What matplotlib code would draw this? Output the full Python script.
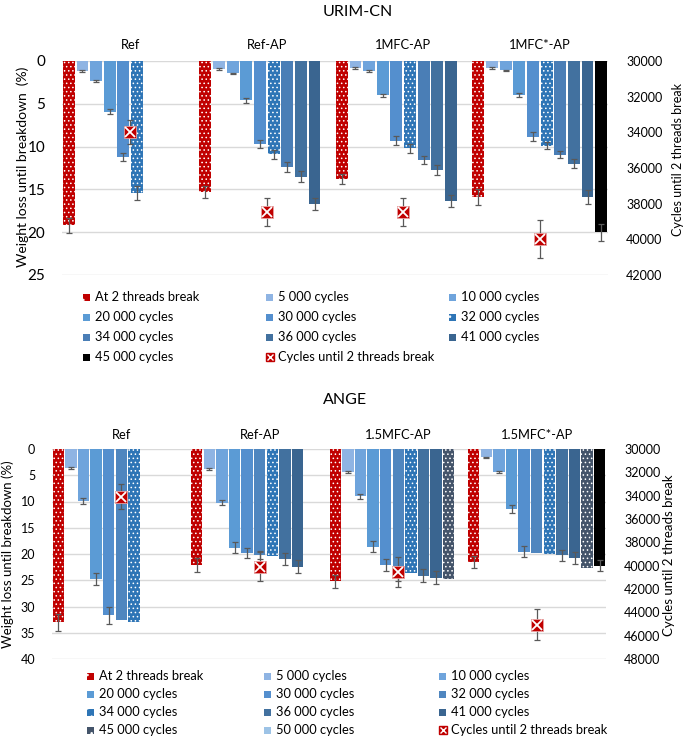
import numpy as np
import matplotlib
matplotlib.use('Agg')
import matplotlib.pyplot as plt
from matplotlib.patches import Rectangle
from matplotlib.lines import Line2D

plt.rcParams['font.family'] = ['Lato', 'DejaVu Sans']
plt.rcParams['hatch.linewidth'] = 0.6

nan = np.nan

# ------------------------- URIM-CN (top) -------------------------
top_title = 'URIM-CN'
top_groups = ['Ref', 'Ref-AP', '1MFC-AP', '1MFC*-AP']
top_series = ['At 2 threads break', '5 000 cycles', '10 000 cycles', '20 000 cycles',
              '30 000 cycles', '32 000 cycles', '34 000 cycles', '36 000 cycles',
              '41 000 cycles', '45 000 cycles']
top_ref = [19.2, 1.2, 2.3, 5.9, 11.2, 15.4, nan, nan, nan, nan]
top_ref_err = [0.9, 0.1, 0.1, 0.3, 0.5, 0.8, nan, nan, nan, nan]
top_refap = [15.3, 0.95, 1.45, 4.6, 9.7, 10.9, 12.35, 13.5, 16.7, nan]
top_refap_err = [0.7, 0.1, 0.1, 0.3, 0.5, 0.5, 0.6, 0.6, 0.7, nan]
top_1mfc = [13.8, 0.8, 1.2, 4.0, 9.3, 10.2, 11.55, 12.75, 16.4, nan]
top_1mfc_err = [0.6, 0.1, 0.1, 0.2, 0.5, 0.5, 0.5, 0.6, 0.7, nan]
top_1mfcs = [15.9, 0.85, 1.1, 3.95, 8.85, 9.9, 10.95, 12.0, 15.9, 20.0]
top_1mfcs_err = [0.9, 0.1, 0.1, 0.2, 0.5, 0.4, 0.4, 0.5, 0.8, 1.0]
top_cycles = [33980, 38470, 38490, 39980]
top_cycles_err = [680, 780, 790, 1050]
top_colors = ['#C00000', '#8FB4E3', '#6FA4DC', '#5B9BD5', '#548FCE', '#2E75B6',
              '#4A7EB6', '#42719F', '#3A6590', '#000000']
top_dotted = [True, False, False, False, False, True, False, False, False, False]

# ------------------------- ANGE (bottom) -------------------------
bot_title = 'ANGE'
bot_groups = ['Ref', 'Ref-AP', '1.5MFC-AP', '1.5MFC*-AP']
bot_series = ['At 2 threads break', '5 000 cycles', '10 000 cycles', '20 000 cycles',
              '30 000 cycles', '32 000 cycles', '34 000 cycles', '36 000 cycles',
              '41 000 cycles', '45 000 cycles', '50 000 cycles']
bot_ref = [33.0, 3.6, 9.9, 24.8, 31.7, 32.6, 33.0, nan, nan, nan, nan]
bot_ref_err = [1.6, 0.15, 0.5, 1.1, 1.6, nan, nan, nan, nan, nan, nan]
bot_refap = [22.1, 3.8, 10.2, 18.8, 19.8, 20.2, 20.4, 21.0, 22.4, nan, nan]
bot_refap_err = [1.3, 0.15, 0.5, 1.0, 1.0, 0.8, nan, 1.1, 1.2, nan, nan]
bot_15mfc = [25.2, 4.3, 9.0, 18.6, 22.1, 24.3, 23.7, 24.1, 24.5, 24.8, nan]
bot_15mfc_err = [1.25, 0.2, 0.5, 1.0, 1.1, 0.9, nan, 1.2, 1.3, nan, nan]
bot_15mfcs = [21.5, 1.6, 4.3, 11.4, 19.55, 19.9, 20.0, 20.25, 20.8, 22.7, 22.2]
bot_15mfcs_err = [1.1, 0.1, 0.2, 0.7, 1.0, nan, nan, 1.0, 1.1, nan, 1.1]
bot_cycles = [34090, 40080, 40560, 45060]
bot_cycles_err = [1070, 1270, 1260, 1340]
bot_colors = ['#C00000', '#8FB4E3', '#6FA4DC', '#5B9BD5', '#548FCE', '#4F86BF',
              '#2E75B6', '#42719F', '#3A6590', '#44546A', '#000000']
bot_legend_colors = ['#C00000', '#8FB4E3', '#6FA4DC', '#5B9BD5', '#548FCE', '#4F86BF',
                     '#2E75B6', '#42719F', '#3A6590', '#44546A', '#9DC3E6']
bot_dotted = [True, False, False, False, False, False, True, False, False, True, False]

cross_label = 'Cycles until 2 threads break'
ylabel_top = 'Weight loss until breakdown  (%)'
ylabel_bot = 'Weight loss until breakdown (%)'
y2label = 'Cycles until 2 threads break'

W, H = 685, 738
fig = plt.figure(figsize=(W / 100, H / 100), dpi=100)

ERR_C = '#595959'


def fx(px):
    return px / W


def fy(py):
    return 1 - py / H


def draw_chart(box, groups, series, vals, errs, colors, dotted, cycles, cycles_err,
               ylim, yticks, y2lim, y2ticks, bar_w, tick_fs, y2_fs, cat_fs, cat_pad):
    l, t, r, b = box
    ax = fig.add_axes([fx(l), fy(b), fx(r) - fx(l), fy(t) - fy(b)])
    n = len(series)
    ng = len(groups)
    for si in range(n):
        xs, hs, es = [], [], []
        for gi in range(ng):
            v = vals[gi][si]
            if np.isnan(v):
                continue
            xs.append(gi * n + si + 0.5)
            hs.append(v)
            es.append(errs[gi][si])
        if not xs:
            continue
        if dotted[si]:
            ax.bar(xs, hs, width=bar_w, color=colors[si], edgecolor='white',
                   linewidth=0, hatch='....', zorder=2)
        else:
            ax.bar(xs, hs, width=bar_w, color=colors[si], linewidth=0, zorder=2)
        es = np.array(es, dtype=float)
        m = ~np.isnan(es)
        if m.any():
            ax.errorbar(np.array(xs)[m], np.array(hs)[m], yerr=es[m], fmt='none',
                        ecolor=ERR_C, elinewidth=0.9, capsize=2.2, capthick=0.9, zorder=3)
    ax.set_xlim(0, ng * n)
    ax.set_ylim(ylim[1], ylim[0])
    ax.set_yticks(yticks)
    ax.set_yticklabels([str(v) for v in yticks], fontsize=tick_fs)
    ax.yaxis.grid(True, color='#D9D9D9', linewidth=1.0)
    ax.set_axisbelow(True)
    centers = [gi * n + n / 2 for gi in range(ng)]
    ax.set_xticks(centers)
    ax.set_xticklabels(groups, fontsize=cat_fs)
    ax.xaxis.tick_top()
    ax.tick_params(axis='x', length=0, pad=cat_pad)
    ax.tick_params(axis='y', length=0, pad=12)
    for s in ax.spines.values():
        s.set_visible(False)

    ax2 = ax.twinx()
    ax2.set_ylim(y2lim[1], y2lim[0])
    ax2.set_yticks(y2ticks)
    ax2.set_yticklabels([str(v) for v in y2ticks], fontsize=y2_fs)
    ax2.tick_params(axis='y', length=0, pad=13)
    for s in ax2.spines.values():
        s.set_visible(False)
    ax2.errorbar(centers, cycles, yerr=cycles_err, fmt='none', ecolor=ERR_C,
                 elinewidth=0.9, capsize=2.2, capthick=0.9, zorder=4)
    ax2.plot(centers, cycles, linestyle='none', marker='s', ms=8.8,
             mfc='#C00000', mec='#E8A0A0', mew=0.6, zorder=5)
    ax2.plot(centers, cycles, linestyle='none', marker='x', ms=6.5,
             mec='white', mew=1.3, zorder=6)
    return ax, ax2


def draw_legend(labels, colors, dotted, col_x, row_y, fs, cross_lab):
    items = [(lab, colors[i], dotted[i]) for i, lab in enumerate(labels)]
    items.append((cross_lab, None, None))
    sq = 7
    for k, (lab, col, dot) in enumerate(items):
        rr, cc = divmod(k, 3)
        x0 = col_x[cc]
        y0 = row_y[rr]
        if col is None:
            fig.add_artist(Line2D([fx(x0 + sq / 2)], [fy(y0)], transform=fig.transFigure,
                                  marker='s', ms=5.5, mfc='#C00000', mec='#C00000',
                                  linestyle='none'))
            fig.add_artist(Line2D([fx(x0 + sq / 2)], [fy(y0)], transform=fig.transFigure,
                                  marker='x', ms=4.0, mec='white', mew=1.0,
                                  linestyle='none'))
        else:
            rect = Rectangle((fx(x0), fy(y0 + sq / 2)), fx(sq), sq / H,
                             transform=fig.transFigure, facecolor=col,
                             edgecolor='white' if dot else 'none', linewidth=0,
                             hatch='..' if dot else None)
            fig.add_artist(rect)
        fig.text(fx(x0 + sq + 5), fy(y0), lab, fontsize=fs, va='center', ha='left')


# ---- top chart ----
draw_chart((62, 61, 608, 275), top_groups, top_series,
           [top_ref, top_refap, top_1mfc, top_1mfcs],
           [top_ref_err, top_refap_err, top_1mfc_err, top_1mfcs_err],
           top_colors, top_dotted, top_cycles, top_cycles_err,
           (0, 25), [0, 5, 10, 15, 20, 25], (30000, 42000),
           list(range(30000, 42001, 2000)), 0.87, 11, 9, 9.3, 7)
fig.text(fx(358), fy(12), top_title, fontsize=11.5, ha='center', va='center')
fig.text(fx(23), fy(167), ylabel_top, fontsize=10, rotation=90, ha='center', va='center')
fig.text(fx(678), fy(159), y2label, fontsize=9, rotation=90, ha='center', va='center')
draw_legend(top_series, top_colors, top_dotted, [83, 266, 449], [297, 317, 337, 357],
            9.3, cross_label)

# ---- bottom chart ----
draw_chart((52, 449, 606, 659), bot_groups, bot_series,
           [bot_ref, bot_refap, bot_15mfc, bot_15mfcs],
           [bot_ref_err, bot_refap_err, bot_15mfc_err, bot_15mfcs_err],
           bot_colors, bot_dotted, bot_cycles, bot_cycles_err,
           (0, 40), [0, 5, 10, 15, 20, 25, 30, 35, 40], (30000, 48000),
           list(range(30000, 48001, 2000)), 0.9, 9, 9, 9.3, 6)
fig.text(fx(345), fy(400), bot_title, fontsize=11.5, ha='center', va='center')
fig.text(fx(8), fy(554), ylabel_bot, fontsize=9.5, rotation=90, ha='center', va='center')
fig.text(fx(669), fy(555), y2label, fontsize=9.5, rotation=90, ha='center', va='center')
draw_legend(bot_series, bot_legend_colors, bot_dotted, [87, 264, 439], [676, 694, 712, 730],
            9.3, cross_label)

fig.savefig('out.png', dpi=100)
